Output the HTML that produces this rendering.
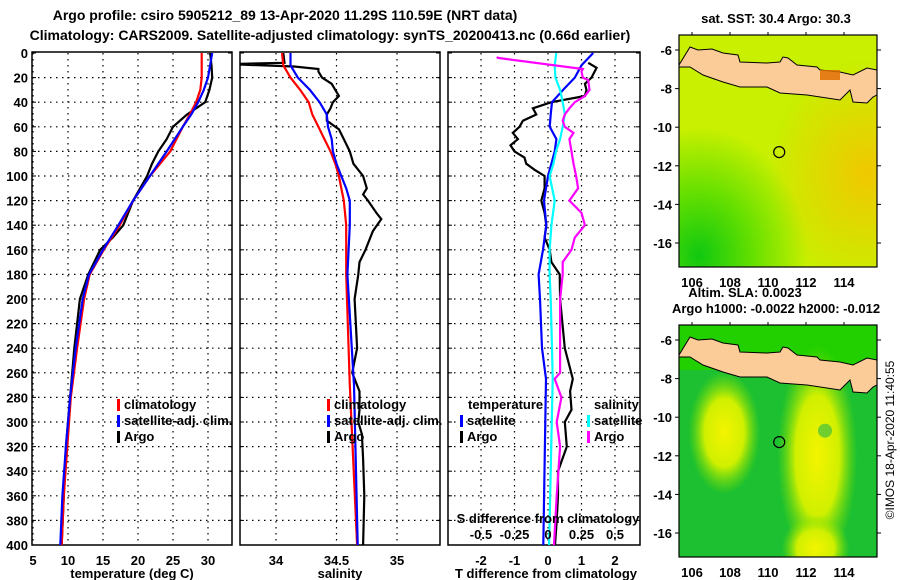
<!DOCTYPE html>
<html><head><meta charset="utf-8"><style>
html,body{margin:0;padding:0;background:#fff;}
svg{display:block;font-family:"Liberation Sans",sans-serif;font-weight:bold;}
</style></head><body>
<svg id="fig" width="900" height="580" viewBox="0 0 900 580" xmlns="http://www.w3.org/2000/svg">
<defs>
<clipPath id="c1"><rect x="32" y="52" width="200" height="493"/></clipPath>
<clipPath id="c2"><rect x="240" y="52" width="200" height="493"/></clipPath>
<clipPath id="c3"><rect x="448" y="52" width="192" height="493"/></clipPath>
<clipPath id="m1"><rect x="679" y="35" width="198" height="232"/></clipPath>
<clipPath id="m2"><rect x="679" y="325" width="198" height="232"/></clipPath>
<radialGradient id="sstG" cx="0.1" cy="0.95" r="0.55"><stop offset="0" stop-color="#10c810"/><stop offset="0.5" stop-color="#66e000"/><stop offset="1" stop-color="#66e000" stop-opacity="0"/></radialGradient>
<radialGradient id="sstO" cx="0.95" cy="0.6" r="0.5"><stop offset="0" stop-color="#f0c800"/><stop offset="1" stop-color="#f0c800" stop-opacity="0"/></radialGradient>
<radialGradient id="y1" cx="0.5" cy="0.5" r="0.5"><stop offset="0" stop-color="#f4f400"/><stop offset="0.55" stop-color="#d0f000"/><stop offset="1" stop-color="#80e000" stop-opacity="0"/></radialGradient>
</defs>
<text x="285" y="20" font-size="14" text-anchor="middle">Argo profile: csiro 5905212_89 13-Apr-2020 11.29S 110.59E (NRT data)</text>
<text x="330" y="40" font-size="14" text-anchor="middle">Climatology: CARS2009. Satellite-adjusted climatology: synTS_20200413.nc (0.66d earlier)</text>
<g id="axes"></g>
<g id="maps"></g>
</svg>
<script>
// ---- data ----
const depthT = [0,10,20,30,40,50,60,70,80,90,100,120,140,150,160,180,200,240,280,320,360,400];
const argoT  = [30.3,30.5,30.6,30.2,29.6,27.0,25.0,24.1,22.9,22.0,21.3,19.3,17.9,16.4,14.6,12.9,11.7,10.9,10.3,9.7,9.4,9.1];
const depthC = [0,20,30,40,50,60,80,100,120,140,160,180,200,240,280,320,360,400];
const climT  = [29.1,29.1,28.9,28.3,27.4,26.4,24.6,21.7,19.3,17.4,15.1,13.1,12.3,11.3,10.4,9.9,9.4,9.1];
const satT   = [30.6,30.0,29.4,28.6,27.6,26.4,24.1,21.7,19.3,17.2,15.0,13.0,12.1,11.1,10.3,9.7,9.2,8.9];
const depthCS = [0,10,20,30,40,50,60,70,80,90,100,110,120,140,160,180,270,400];
const climS  = [34.05,34.06,34.12,34.20,34.27,34.30,34.35,34.40,34.45,34.49,34.52,34.54,34.56,34.58,34.58,34.58,34.61,34.67];
const satS   = [34.12,34.12,34.18,34.28,34.36,34.42,34.43,34.46,34.47,34.50,34.54,34.58,34.61,34.61,34.60,34.59,34.645,34.675];
const depthAS = [0,8,9,11,13,15,20,25,30,35,40,45,50,55,62,70,80,90,100,110,115,120,130,135,145,160,170,180,200,240,260,275,290,300,310,330,360,400];
const argoS  = [34.06,34.07,33.6,34.15,34.35,34.35,34.38,34.46,34.49,34.52,34.47,34.45,34.42,34.42,34.52,34.56,34.61,34.64,34.72,34.75,34.72,34.76,34.83,34.87,34.80,34.74,34.69,34.68,34.65,34.67,34.63,34.69,34.69,34.68,34.71,34.72,34.73,34.72];
const depthD = [0,10,20,30,40,50,60,70,80,90,100,120,140,160,180,200,240,265,400];
const satDT  = [1.35,1.0,0.8,0.45,0.12,0.08,0.05,0.25,0.2,0.1,0.0,-0.12,-0.05,-0.15,-0.28,-0.24,-0.18,-0.06,-0.14];
const satDS  = [0.062,0.05,0.055,0.09,0.11,0.125,0.11,0.09,0.06,0.04,0.012,0.05,0.025,0.012,0.012,0.02,0.03,0.035,0.008];
const depthAD = [8,12,20,25,30,35,40,45,50,55,60,65,70,75,80,85,90,95,100,110,120,130,140,150,160,170,180,200,240,265,275,290,300,320,340,360,380,400];
const argoDT = [1.2,1.45,1.3,1.1,1.15,1.1,0.1,-0.45,-0.35,-0.75,-0.85,-1.05,-0.9,-1.12,-1.0,-0.7,-0.65,-0.4,-0.1,-0.1,-0.2,-0.1,-0.05,-0.1,0.05,0.1,0.35,0.36,0.5,0.74,0.66,0.7,0.5,0.56,0.3,0.3,0.26,0.21];
const depthADS = [3,4,13,15,20,22,30,35,40,45,50,55,60,65,70,80,90,95,100,110,120,130,140,150,160,170,180,200,260,265,280,300,320,360,400];
const argoDS = [-0.38,-0.375,0.26,0.25,0.26,0.3,0.31,0.275,0.2,0.16,0.125,0.11,0.125,0.19,0.16,0.175,0.19,0.2,0.21,0.225,0.16,0.25,0.275,0.2,0.175,0.11,0.11,0.09,0.09,0.05,0.1,0.065,0.09,0.065,0.045];
const depthTicks = [0,20,40,60,80,100,120,140,160,180,200,220,240,260,280,300,320,340,360,380,400];
const tTicks = [5,10,15,20,25,30];
const sTicks = [34,34.5,35];
const dTTicks = [-2,-1,0,1,2];
const dSTicks = [-0.5,-0.25,0,0.25,0.5];
const dSTickLabels = ["-0.5","-0.25","0","0.25","0.5"];
const latTicks = [-6,-8,-10,-12,-14,-16];
const lonTicks = [106,108,110,112,114];
const argoLon = 110.59, argoLat = -11.29;

const NS="http://www.w3.org/2000/svg";
const ax=document.getElementById('axes');
function mk(tag,attrs,parent,txt){const e=document.createElementNS(NS,tag);for(const k in attrs)e.setAttribute(k,attrs[k]);if(txt!==undefined)e.textContent=txt;(parent||ax).appendChild(e);return e;}
const yD = d => 53 + d*1.23;
const panels=[
 {x0:32,w:200,clip:'c1',sx:v=>33+(v-5)*7,ticks:tTicks,name:'temperature-panel'},
 {x0:240,w:200,clip:'c2',sx:v=>276+(v-34)*121,ticks:sTicks,name:'salinity-panel'},
 {x0:448,w:192,clip:'c3',sx:v=>548+v*33.5,ticks:dTTicks,name:'difference-panel'}];
const sxS = v => 548 + v*134;
panels.forEach((p,i)=>{
  const g=mk('g',{});
  
  
  depthTicks.forEach(d=>{
    if(d>0&&d<400){const l=mk('line',{x1:p.x0,x2:p.x0+p.w,y1:yD(d),y2:yD(d),stroke:'#000','stroke-width':1.2,'stroke-dasharray':'1.5,4.5'},g);
    
    }
    mk('line',{x1:p.x0,x2:p.x0+4,y1:yD(d),y2:yD(d),stroke:'#000'},g);
    mk('line',{x1:p.x0+p.w-4,x2:p.x0+p.w,y1:yD(d),y2:yD(d),stroke:'#000'},g);
    if(i===0){const t=mk('text',{x:28,y:yD(d)+5,'font-size':13,'text-anchor':'end'},g,String(d));
    
    }
  });
  p.ticks.forEach(v=>{
    const x=p.sx(v);
    mk('line',{x1:x,x2:x,y1:53,y2:545,stroke:'#000','stroke-width':1.2,'stroke-dasharray':'1.5,4.5'},g);
    const t=mk('text',{x:x,y:565,'font-size':13,'text-anchor':'middle'},g,String(v));
    
    
  });
  const r=mk('rect',{x:p.x0,y:52,width:p.w,height:493,fill:'none',stroke:'#000','stroke-width':1.5},g);
  
  
});
function line(ds,vs,sx,color,clip,name){
  const pts=ds.map((d,k)=>sx(vs[k]).toFixed(1)+','+yD(d).toFixed(1)).join(' ');
  const l=mk('polyline',{points:pts,fill:'none',stroke:color,'stroke-width':2.2,'clip-path':'url(#'+clip+')'});
  
  
}
const p0=panels[0].sx,p1=panels[1].sx,p2=panels[2].sx;
line(depthT,argoT,p0,'#000','c1','argo-temperature-line');
line(depthC,climT,p0,'#f00','c1','climatology-temperature-line');
line(depthC,satT,p0,'#00f','c1','satellite-temperature-line');
line(depthAS,argoS,p1,'#000','c2','argo-salinity-line');
line(depthCS,climS,p1,'#f00','c2','climatology-salinity-line');
line(depthCS,satS,p1,'#00f','c2','satellite-salinity-line');
line(depthAD,argoDT,p2,'#000','c3','argo-temperature-diff-line');
line(depthD,satDT,p2,'#00f','c3','satellite-temperature-diff-line');
line(depthD,satDS,sxS,'#0ff','c3','satellite-salinity-diff-line');
line(depthADS,argoDS,sxS,'#f0f','c3','argo-salinity-diff-line');
// axis titles
[[132,'temperature (deg C)'],[340,'salinity'],[546,'T difference from climatology']].forEach(([x,s])=>{
  const t=mk('text',{x:x,y:578,'font-size':13,'text-anchor':'middle'},ax,s);
  
  
});
const st=mk('text',{x:548,y:523,'font-size':13,'text-anchor':'middle'},ax,'S difference from climatology');


dSTicks.forEach((v,k)=>{
  const t=mk('text',{x:sxS(v),y:539,'font-size':13,'text-anchor':'middle'},ax,dSTickLabels[k]);
  
  
});
// legends
function leg(x,y,color,label){
  const g=mk('g',{});
  
  
  if(color) mk('rect',{x:x,y:y-10,width:3,height:12,fill:color},g);
  mk('text',{x:x+7,y:y,'font-size':13},g,label);
}
leg(117,409,'#f00','climatology');leg(117,425,'#00f','satellite-adj. clim.');leg(117,441,'#000','Argo');
leg(327,409,'#f00','climatology');leg(327,425,'#00f','satellite-adj. clim.');leg(327,441,'#000','Argo');
leg(461,409,null,'temperature');leg(460,425,'#00f','satellite');leg(460,441,'#000','Argo');
leg(587,409,null,'salinity');leg(587,425,'#0ff','satellite');leg(587,441,'#f0f','Argo');
// maps
const mg=document.getElementById('maps');
const javaPts=[[679,65],[690,47],[698,50],[712,49],[723,53],[738,55],[740,62],[767,63],[780,62],[783,57],[788,58],[797,65],[817,67],[820,70],[840,72],[853,75],[867,68],[877,70],[877,95],[873,97],[867,103],[853,102],[850,90],[840,100],[807,95],[780,93],[767,87],[740,87],[723,82],[703,75],[690,67],[679,67]];
const mlon = lon => 692+(lon-106)*19;
const mlat = lat => 50+(-6-lat)*19.3;
function map(off,clip,name,kind){
  const g=mk('g',{},mg);
  
  
  const c=mk('g',{'clip-path':'url(#'+clip+')'},g);
  if(kind==='sst'){
    mk('rect',{x:679,y:35+off,width:198,height:232,fill:'#c8f000'},c);
    mk('rect',{x:679,y:35+off,width:198,height:232,fill:'url(#sstO)'},c);
    mk('rect',{x:679,y:35+off,width:198,height:232,fill:'url(#sstG)'},c);
  } else {
    mk('rect',{x:679,y:35+off,width:198,height:232,fill:'#1cc030'},c);
    mk('rect',{x:679,y:35+off,width:198,height:45,fill:'#22d000'},c);
    mk('ellipse',{cx:mlon(107.7),cy:mlat(-10.8)+off,rx:36,ry:62,fill:'url(#y1)'},c);
    mk('ellipse',{cx:mlon(112.6),cy:mlat(-12)+off,rx:40,ry:110,fill:'url(#y1)'},c);
    mk('ellipse',{cx:mlon(112.5),cy:mlat(-16.8)+off,rx:34,ry:34,fill:'url(#y1)'},c);
    mk('circle',{cx:mlon(113),cy:mlat(-10.7)+off,r:7,fill:'#40c040',opacity:0.7},c);
  }
  const jv=mk('polygon',{points:javaPts.map(p=>p[0]+','+(p[1]+off)).join(' '),fill:'#fccc98',stroke:'#000','stroke-width':1},c);
  
  
  if(kind==='sst'){ mk('rect',{x:820,y:70,width:20,height:10,fill:'#e07000',opacity:0.85},c); }
  const fl=mk('circle',{cx:mlon(argoLon),cy:mlat(argoLat)+off,r:5.5,fill:'none',stroke:'#000','stroke-width':1.2},g);
  
  
  mk('rect',{x:679,y:35+off,width:198,height:232,fill:'none',stroke:'#000','stroke-width':1.2},g);
  latTicks.forEach(v=>{
    const y=mlat(v)+off;
    mk('line',{x1:675,x2:679,y1:y,y2:y,stroke:'#000'},g);
    mk('line',{x1:877,x2:881,y1:y,y2:y,stroke:'#000'},g);
    mk('text',{x:672,y:y+5,'font-size':13,'text-anchor':'end'},g,String(v));
  });
  lonTicks.forEach(v=>{
    const x=mlon(v);
    mk('line',{x1:x,x2:x,y1:32+off,y2:35+off,stroke:'#000'},g);
    mk('text',{x:x,y:287+off,'font-size':13,'text-anchor':'middle'},g,String(v));
  });
}
map(0,'m1','sst-map','sst');
map(290,'m2','sla-map','sla');
[[776,23,'sat. SST: 30.4 Argo: 30.3'],[745,297,'Altim. SLA: 0.0023'],[776,313,'Argo h1000: -0.0022 h2000: -0.012']].forEach(([x,y,s])=>{
  const t=mk('text',{x:x,y:y,'font-size':13,'text-anchor':'middle'},mg,s);
  
  
});
const cp=mk('text',{x:0,y:0,'font-size':12,'font-weight':'normal','text-anchor':'middle',transform:'translate(894,440) rotate(-90)'},mg,'©IMOS 18-Apr-2020 11:40:55');


</script>
</body></html>
